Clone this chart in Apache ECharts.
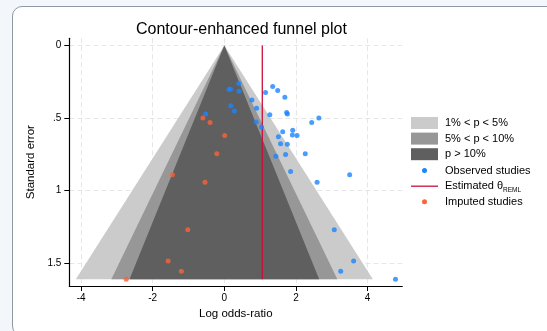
<!DOCTYPE html>
<html><head><meta charset="utf-8">
<script src="https://cdn.jsdelivr.net/npm/echarts@6/dist/echarts.min.js"></script>
<style>
html,body{margin:0;padding:0;width:547px;height:331px;overflow:hidden;background:#f3f6fa;}
#card{position:absolute;left:12px;top:6px;width:620px;height:330px;background:#fff;border:1.5px solid #8e99a8;border-radius:10px;box-sizing:border-box;}
#chart{position:absolute;left:0;top:0;width:547px;height:331px;}
</style></head><body>
<div id="card"></div><div id="chart"></div>
<script>
// Observed studies (log odds-ratio, standard error)
const observedX  = [0.40, 0.13, 0.17, 0.41, 1.35, 1.15, 1.49, 1.69, 0.77, 0.90, 0.18, 0.28, -0.52, 1.27, 1.74, 1.76, 2.64, 2.44, 0.89, 1.04, 1.91, 1.63, 1.90, 2.03, 1.51, 1.57, 1.76, 2.26, 1.71, 1.44, 3.50, 1.85, 2.59, 3.07, 3.61, 3.25, 4.78];
const observedSE = [0.262, 0.301, 0.301, 0.315, 0.282, 0.324, 0.310, 0.356, 0.375, 0.432, 0.414, 0.451, 0.471, 0.476, 0.462, 0.471, 0.499, 0.531, 0.527, 0.561, 0.584, 0.594, 0.617, 0.619, 0.628, 0.677, 0.681, 0.746, 0.750, 0.762, 0.891, 0.868, 0.942, 1.269, 1.484, 1.556, 1.610];
// Imputed studies (trim-and-fill)
const imputedX  = [-0.60, -0.40, 0.01, -0.21, -1.45, -0.54, -1.02, -1.57, -1.20, -2.74];
const imputedSE = [0.499, 0.531, 0.619, 0.746, 0.891, 0.942, 1.269, 1.484, 1.556, 1.610];
// Estimated effect and contour settings
const thetaREML = 1.06;
const seMax = 1.61;
const contourZ = [2.576, 1.96, 1.645];
const contourNames = ['1% < p < 5%', '5% < p < 10%', 'p > 10%'];
const contourColors = ['#cbcbcb', '#979797', '#5f5f5f'];
// Ticks
const xTicks = [-4, -2, 0, 2, 4];
const yTicks = [0, 0.5, 1, 1.5];

const FONT = "'Liberation Sans', Arial, Helvetica, sans-serif";
const chart = echarts.init(document.getElementById('chart'), null, {renderer: 'canvas'});

const contourSeries = contourZ.map((z, i) => ({
  type: 'custom',
  name: contourNames[i],
  coordinateSystem: 'cartesian2d',
  silent: true,
  z: 1 + i,
  data: [[z, seMax]],
  renderItem: function (params, api) {
    const zz = api.value(0), s = api.value(1);
    const p0 = api.coord([0, 0]);
    const p1 = api.coord([-zz * s, s]);
    const p2 = api.coord([zz * s, s]);
    return {type: 'polygon', shape: {points: [p0, p1, p2]}, style: {fill: contourColors[i]}};
  }
}));

const option = {
  animation: false,
  textStyle: {fontFamily: FONT},
  title: {
    text: 'Contour-enhanced funnel plot',
    left: 131, top: 17,
    textStyle: {fontFamily: FONT, fontSize: 16, fontWeight: 'normal', color: '#000'}
  },
  grid: {left: 69.3, right: 144.7, top: 38.3, bottom: 45, containLabel: false},
  xAxis: {
    type: 'value', min: -4.33, max: 4.97,
    name: 'Log odds-ratio', nameLocation: 'middle', nameGap: 22,
    nameTextStyle: {fontFamily: FONT, fontSize: 11.5, color: '#000'},
    axisLine: {show: true, onZero: false, lineStyle: {color: '#000', width: 1.2}},
    axisTick: {show: true, length: 5, customValues: xTicks, lineStyle: {color: '#000', width: 1}},
    axisLabel: {customValues: xTicks, fontFamily: FONT, fontSize: 10, color: '#000', margin: 7},
    splitLine: {show: true, lineStyle: {color: '#e6e6e6', type: [5, 3], width: 1}}
  },
  yAxis: {
    type: 'value', min: -0.05, max: 1.657, inverse: true,
    name: 'Standard error', nameLocation: 'middle', nameGap: 32,
    nameTextStyle: {fontFamily: FONT, fontSize: 11.5, color: '#000'},
    axisLine: {show: true, onZero: false, lineStyle: {color: '#000', width: 1.2}},
    axisTick: {show: true, length: 5, customValues: yTicks, lineStyle: {color: '#000', width: 1}},
    axisLabel: {customValues: yTicks, fontFamily: FONT, fontSize: 10, color: '#000', margin: 8,
      formatter: v => String(v).replace(/^0\./, '.')},
    splitLine: {show: true, lineStyle: {color: '#e6e6e6', type: [5, 3], width: 1}}
  },
  series: contourSeries.concat([
    {
      type: 'line', name: 'Estimated θREML', z: 5, silent: true,
      data: [[thetaREML, 0], [thetaREML, seMax]],
      symbol: 'none', lineStyle: {color: '#c8103c', width: 1.3}
    },
    {
      type: 'scatter', name: 'Observed studies', z: 6, silent: true,
      data: observedX.map((x, i) => [x, observedSE[i]]),
      symbolSize: 5, itemStyle: {color: '#1a85ff'}
    },
    {
      type: 'scatter', name: 'Imputed studies', z: 6, silent: true,
      data: imputedX.map((x, i) => [x, imputedSE[i]]),
      symbolSize: 5, itemStyle: {color: '#fa6338'}
    }
  ]),
  graphic: (function () {
    const els = [];
    const keyX = 411, keyW = 27, txtX = 445;
    const rowY = [123, 138.6, 154.2, 170.5, 186.2, 201.7];
    contourNames.forEach((n, i) => {
      els.push({type: 'rect', shape: {x: keyX, y: rowY[i] - 6, width: keyW, height: 12}, style: {fill: contourColors[i]}});
      els.push({type: 'text', style: {x: txtX, y: rowY[i], text: n, fill: '#000', font: '11px ' + FONT, textVerticalAlign: 'middle'}});
    });
    els.push({type: 'circle', shape: {cx: keyX + keyW / 2, cy: rowY[3], r: 2.5}, style: {fill: '#1a85ff'}});
    els.push({type: 'text', style: {x: txtX, y: rowY[3], text: 'Observed studies', fill: '#000', font: '11px ' + FONT, textVerticalAlign: 'middle'}});
    els.push({type: 'line', shape: {x1: keyX, y1: rowY[4], x2: keyX + keyW, y2: rowY[4]}, style: {stroke: '#c8103c', lineWidth: 1.3}});
    els.push({type: 'text', style: {x: txtX, y: rowY[4], text: '{a|Estimated θ}{s|REML}', fill: '#000', textVerticalAlign: 'middle',
      rich: {a: {fontSize: 11, fontFamily: FONT, lineHeight: 16, verticalAlign: 'middle'},
             s: {fontSize: 6.5, fontFamily: FONT, lineHeight: 8, verticalAlign: 'bottom'}}}});
    els.push({type: 'circle', shape: {cx: keyX + keyW / 2, cy: rowY[5], r: 2.5}, style: {fill: '#fa6338'}});
    els.push({type: 'text', style: {x: txtX, y: rowY[5], text: 'Imputed studies', fill: '#000', font: '11px ' + FONT, textVerticalAlign: 'middle'}});
    return els;
  })()
};
chart.setOption(option);
</script>
</body></html>
